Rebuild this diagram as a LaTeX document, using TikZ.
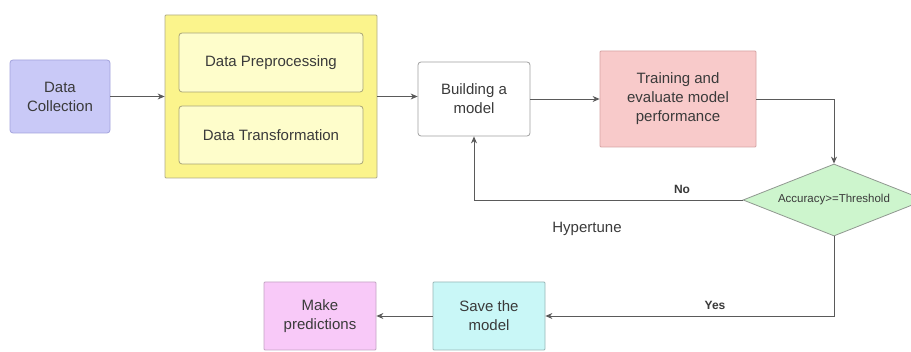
\documentclass[tikz,border=0pt]{standalone}
\usepackage{fontspec}
\setmainfont{Liberation Sans}
\usetikzlibrary{shapes.geometric,arrows.meta}
\definecolor{textgray}{HTML}{3A3A3A}
\definecolor{linegray}{HTML}{5A5A5A}
\definecolor{dcfill}{HTML}{C9C9F7}
\definecolor{dcborder}{HTML}{A3A3DD}
\definecolor{contfill}{HTML}{FBF48C}
\definecolor{contborder}{HTML}{B0AC88}
\definecolor{innerfill}{HTML}{FEFDCB}
\definecolor{innerborder}{HTML}{A8A478}
\definecolor{buildborder}{HTML}{A0A0A0}
\definecolor{trainfill}{HTML}{F8CACA}
\definecolor{trainborder}{HTML}{D6A4A4}
\definecolor{diafill}{HTML}{CDF5CD}
\definecolor{diaborder}{HTML}{909890}
\definecolor{savefill}{HTML}{C9F7F7}
\definecolor{saveborder}{HTML}{98B8B8}
\definecolor{makefill}{HTML}{F8C9F8}
\definecolor{makeborder}{HTML}{C4A4C4}
\begin{document}
\begin{tikzpicture}[x=1pt,y=-1pt,
  box/.style={draw=buildborder, line width=0.8pt, rounded corners=3pt,
    align=center, text=textgray, inner sep=0pt,
    font=\fontsize{15}{19}\selectfont},
  conn/.style={draw=linegray, line width=0.9pt, -{Stealth[length=7pt,width=6pt]}},
  lbl/.style={text=textgray, inner sep=0pt, font=\fontsize{12}{14}\selectfont\bfseries}]
\clip (0,0) rectangle (911,352);
\fill[white] (0,0) rectangle (911,352);
\node[box, fill=dcfill, draw=dcborder, minimum width=100pt, minimum height=73pt] (dc) at (60,96.5) {Data\\Collection};
\node[box, rounded corners=1pt, fill=contfill, draw=contborder, minimum width=212pt, minimum height=163pt] (cont) at (271,96.5) {};
\node[box, fill=innerfill, draw=innerborder, minimum width=184pt, minimum height=59pt] (pre) at (271,62.5) {Data Preprocessing};
\node[box, fill=innerfill, draw=innerborder, minimum width=184pt, minimum height=58pt] (trans) at (271,135) {Data Transformation};
\node[box, fill=white, minimum width=112pt, minimum height=74pt] (build) at (474,99) {Building a\\model};
\node[box, rounded corners=1pt, fill=trainfill, draw=trainborder, minimum width=156pt, minimum height=96pt] (train) at (678,99) {Training and\\evaluate model\\performance};
\node[shape=diamond, aspect=2.5, draw=diaborder, line width=0.8pt, fill=diafill, inner sep=0pt,
  minimum width=182pt, minimum height=72pt, text=textgray, font=\fontsize{11.5}{13}\selectfont] (dia) at (834,200) {Accuracy>=Threshold};
\node[box, rounded corners=1pt, fill=savefill, draw=saveborder, minimum width=112pt, minimum height=68pt] (save) at (489,316) {Save the\\model};
\node[box, rounded corners=1pt, fill=makefill, draw=makeborder, minimum width=112pt, minimum height=68pt] (make) at (320,316) {Make\\predictions};
\node[lbl] (no) at (682,189) {No};
\node[lbl, font=\fontsize{15}{18}\selectfont] (hyper) at (587,229) {Hypertune};
\node[lbl] (yes) at (715,305) {Yes};
\draw[conn] (dc) -- (cont);
\draw[conn] (cont.east) -- (cont.east -| build.west);
\draw[conn] (build) -- (train);
\draw[conn] (train.east) -| (dia.north);
\draw[conn] (dia.west) -| (build.south);
\draw[conn] (dia.south) |- (save.east);
\draw[conn] (save) -- (make);
\end{tikzpicture}
\end{document}
